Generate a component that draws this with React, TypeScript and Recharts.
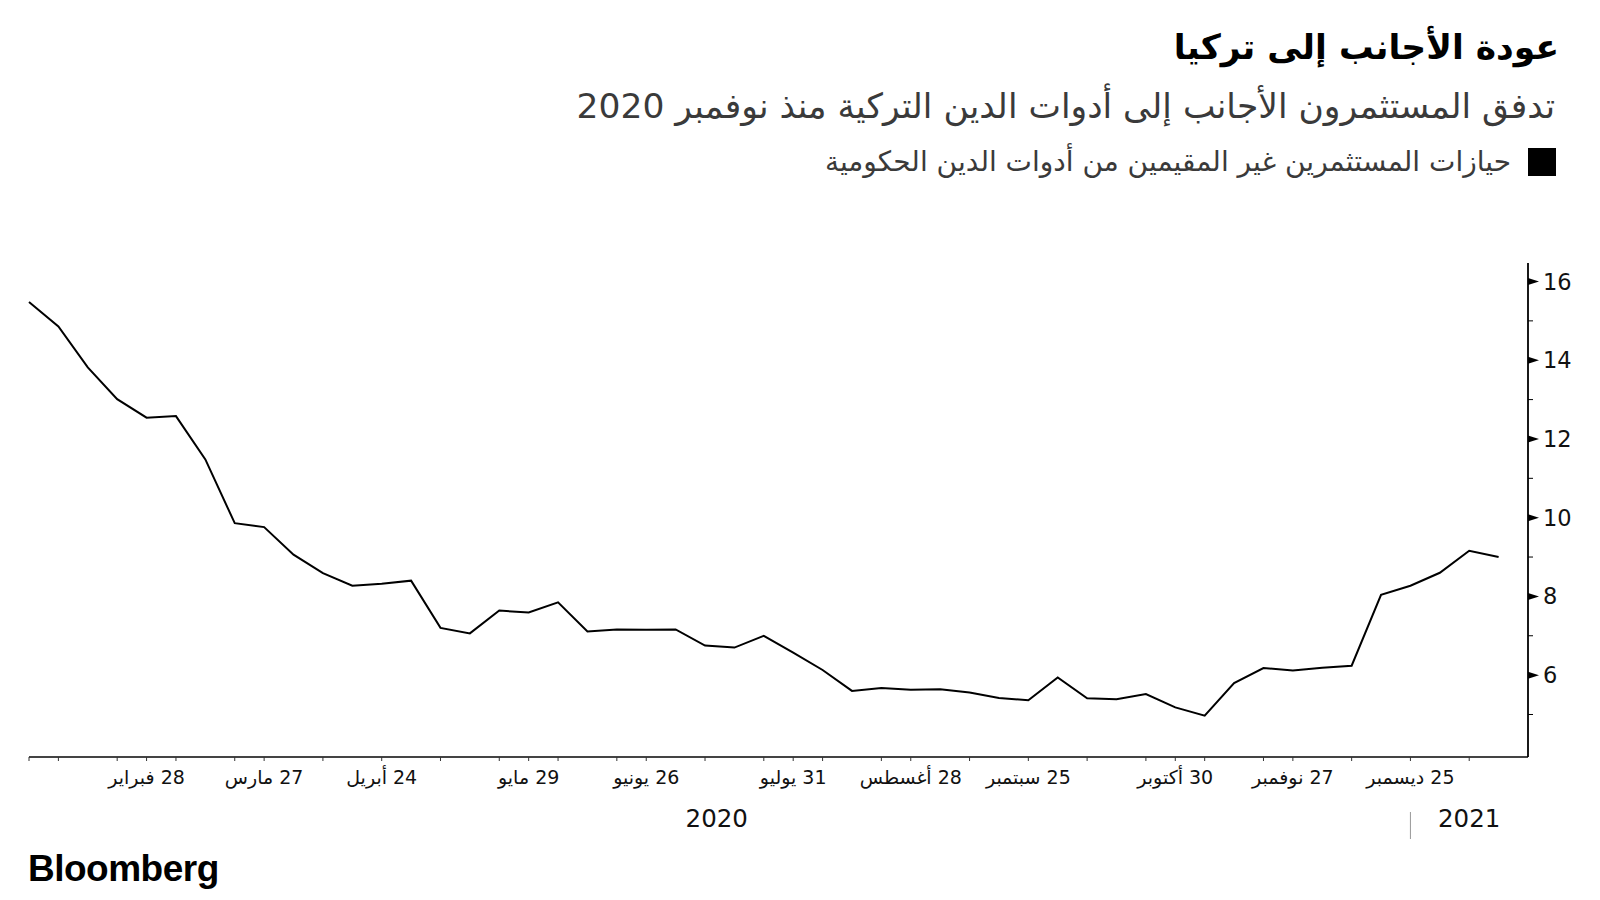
import { LineChart, Line, XAxis, YAxis } from "recharts";

const DATES = [
  "2020-01-31", "2020-02-07", "2020-02-14", "2020-02-21", "2020-02-28", "2020-03-06",
  "2020-03-13", "2020-03-20", "2020-03-27", "2020-04-03", "2020-04-10", "2020-04-17",
  "2020-04-24", "2020-05-01", "2020-05-08", "2020-05-15", "2020-05-22", "2020-05-29",
  "2020-06-05", "2020-06-12", "2020-06-19", "2020-06-26", "2020-07-03", "2020-07-10",
  "2020-07-17", "2020-07-24", "2020-07-31", "2020-08-07", "2020-08-14", "2020-08-21",
  "2020-08-28", "2020-09-04", "2020-09-11", "2020-09-18", "2020-09-25", "2020-10-02",
  "2020-10-09", "2020-10-16", "2020-10-23", "2020-10-30", "2020-11-06", "2020-11-13",
  "2020-11-20", "2020-11-27", "2020-12-04", "2020-12-11", "2020-12-18", "2020-12-25",
  "2021-01-01", "2021-01-08", "2021-01-15",
];

// non-resident holdings of government debt, $bn
const HOLDINGS = [
  15.48, 14.86, 13.82, 13.01, 12.54, 12.58, 11.48, 9.86, 9.76, 9.06, 8.59, 8.27,
  8.32, 8.4, 7.2, 7.06, 7.64, 7.59, 7.85, 7.11, 7.16, 7.15, 7.16, 6.75,
  6.7, 7.0, 6.57, 6.13, 5.6, 5.67, 5.63, 5.64, 5.56, 5.42, 5.36, 5.94,
  5.41, 5.39, 5.52, 5.18, 4.97, 5.8, 6.18, 6.12, 6.19, 6.24, 8.04, 8.27,
  8.6, 9.16, 9.0,
];

const X_TICKS = [0, 1, 3, 4, 5, 7, 8, 10, 12, 14, 16, 17, 18, 20, 21, 23, 25, 26, 27, 29, 30, 32, 34, 36, 38, 39, 40, 42, 43, 45, 47, 49];
const X_LABELS: Record<number, string> = {
  4: "28 فبراير",
  8: "27 مارس",
  12: "24 أبريل",
  17: "29 مايو",
  21: "26 يونيو",
  26: "31 يوليو",
  30: "28 أغسطس",
  34: "25 سبتمبر",
  39: "30 أكتوبر",
  43: "27 نوفمبر",
  47: "25 ديسمبر",
};
const YEAR_LABELS: Record<number, string> = { 23.4: "2020", 49: "2021" };
const YEAR_SEP = 47;
const Y_TICKS = [5, 6, 7, 8, 9, 10, 11, 12, 13, 14, 15, 16];

const data = DATES.map((d, i) => ({ i, date: d, value: HOLDINGS[i] }));

const AR = "'DejaVu Sans', sans-serif";
const NUM = "'DejaVu Sans', sans-serif";

function XTick(props: any) {
  const { x, y, payload } = props;
  const label = X_LABELS[payload.value];
  return (
    <g>
      <line x1={x} x2={x} y1={y - 4} y2={y} stroke="#333" strokeWidth={1} />
      {label && (
        <text x={x} y={y} dy={23} textAnchor="middle" fontSize={19} fontFamily={AR}
          fill="#111" style={{ direction: "rtl", unicodeBidi: "embed" }}>
          {label}
        </text>
      )}
    </g>
  );
}

function YearTick(props: any) {
  const { x, y, payload } = props;
  if (payload.value === YEAR_SEP) {
    return <line x1={x} x2={x} y1={y + 15} y2={y + 42} stroke="#999" strokeWidth={1} />;
  }
  return (
    <text x={x} y={y} dy={30} textAnchor="middle" fontSize={24.5} fontFamily={NUM} fill="#111">
      {YEAR_LABELS[payload.value]}
    </text>
  );
}

function YTick(props: any) {
  const { x, y, payload } = props;
  const major = payload.value % 2 === 0;
  return (
    <g>
      {major ? (
        <polygon points={`${x},${y - 3.5} ${x + 11},${y} ${x},${y + 3.5}`} fill="#000" />
      ) : (
        <line x1={x} x2={x + 5} y1={y} y2={y} stroke="#000" strokeWidth={1} />
      )}
      {major && (
        <text x={x + 15} y={y} dy={8} textAnchor="start" fontSize={22.5} fontFamily={NUM} fill="#111">
          {payload.value}
        </text>
      )}
    </g>
  );
}

export default function App() {
  return (
    <div style={{ position: "absolute", left: 0, top: 0, width: 1600, height: 900, background: "#fff", overflow: "hidden" }}>
      <div dir="rtl" style={{ position: "absolute", right: 41, top: 21, fontFamily: AR, fontWeight: "bold", fontSize: 34.5, lineHeight: "52px", color: "#000", whiteSpace: "nowrap" }}>
        عودة الأجانب إلى تركيا
      </div>
      <div dir="rtl" style={{ position: "absolute", right: 45, top: 82, fontFamily: AR, fontSize: 34.5, lineHeight: "48px", color: "#3a3a3a", whiteSpace: "nowrap" }}>
        تدفق المستثمرون الأجانب إلى أدوات الدين التركية منذ نوفمبر 2020
      </div>
      <div style={{ position: "absolute", left: 1528, top: 148, width: 28, height: 28, background: "#000" }} />
      <div dir="rtl" style={{ position: "absolute", right: 89, top: 142, fontFamily: AR, fontSize: 28, lineHeight: "40px", color: "#3a3a3a", whiteSpace: "nowrap" }}>
        حيازات المستثمرين غير المقيمين من أدوات الدين الحكومية
      </div>

      <div style={{ position: "absolute", left: 0, top: 0 }}>
        <LineChart width={1600} height={900} data={data} margin={{ top: 263, right: 0, bottom: 53, left: 29 }}>
          <XAxis
            dataKey="i" type="number" domain={[0, 51]} ticks={X_TICKS} interval={0}
            tick={<XTick />} tickSize={4} tickMargin={0} tickLine={false}
            axisLine={{ stroke: "#444", strokeWidth: 2 }} height={40}
          />
          <XAxis
            xAxisId="year" dataKey="i" type="number" domain={[0, 51]} ticks={[23.4, YEAR_SEP, 49]} interval={0}
            tick={<YearTick />} tickSize={0} tickMargin={0} tickLine={false} axisLine={false} height={50}
            allowDataOverflow
          />
          <YAxis
            orientation="right" type="number" domain={[3.92, 16.47]} ticks={Y_TICKS} interval={0}
            tick={<YTick />} tickSize={0} tickMargin={0} tickLine={false}
            axisLine={{ stroke: "#000", strokeWidth: 1.8 }} width={72} allowDataOverflow
          />
          <Line
            type="linear" dataKey="value" stroke="#000" strokeWidth={2}
            dot={false} activeDot={false} isAnimationActive={false}
          />
        </LineChart>
      </div>

      <div style={{ position: "absolute", left: 28, top: 847, fontFamily: "'Liberation Sans', Arial, sans-serif", fontWeight: "bold", fontSize: 37, lineHeight: "44px", color: "#000", letterSpacing: -0.5 }}>
        Bloomberg
      </div>
    </div>
  );
}
